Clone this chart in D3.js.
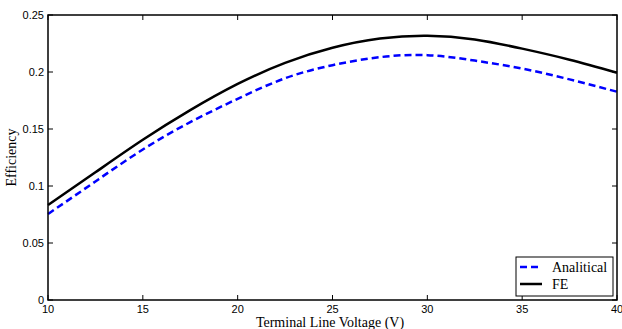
<!DOCTYPE html>
<html><head><meta charset="utf-8">
<script src="https://cdn.jsdelivr.net/npm/d3@7"></script>
<style>body{margin:0;background:#fff}svg{display:block}</style>
</head><body>
<script>
const voltage = [10, 12.5, 15, 17.5, 20, 22.5, 25, 27.5, 30, 32.5, 35, 37.5, 40];
const analitical = [0.0754, 0.104, 0.132, 0.156, 0.1765, 0.1945, 0.2060, 0.2130, 0.2148, 0.2100, 0.2030, 0.1935, 0.1827];
const fe = [0.0833, 0.112, 0.1405, 0.1665, 0.1895, 0.2080, 0.2212, 0.2293, 0.2318, 0.2285, 0.2205, 0.2108, 0.1994];
const xTicks = [10, 15, 20, 25, 30, 35, 40];
const yTicks = [0, 0.05, 0.1, 0.15, 0.2, 0.25];
const yTickLabels = ["0", "0.05", "0.1", "0.15", "0.2", "0.25"];
const seriesNames = ["Analitical", "FE"];

const W = 622, H = 329;
const L = 48, R = 617, T = 15, B = 300;
const svg = d3.select("body").append("svg").attr("width", W).attr("height", H);
const x = d3.scaleLinear().domain([10, 40]).range([L, R]);
const y = d3.scaleLinear().domain([0, 0.25]).range([B, T]);

const tickFont = "Liberation Sans, Arial, sans-serif";
const serif = "Liberation Serif, Times New Roman, serif";

const g = svg.append("g");
xTicks.forEach(v => {
  g.append("line").attr("x1", x(v)).attr("x2", x(v)).attr("y1", B).attr("y2", B - 5).attr("stroke", "#000");
  g.append("line").attr("x1", x(v)).attr("x2", x(v)).attr("y1", T).attr("y2", T + 5).attr("stroke", "#000");
  g.append("text").attr("x", x(v)).attr("y", 313).attr("text-anchor", "middle")
    .attr("font-family", tickFont).attr("font-size", 11).text(v);
});
yTicks.forEach((v, i) => {
  g.append("line").attr("x1", L).attr("x2", L + 5).attr("y1", y(v)).attr("y2", y(v)).attr("stroke", "#000");
  g.append("line").attr("x1", R).attr("x2", R - 5).attr("y1", y(v)).attr("y2", y(v)).attr("stroke", "#000");
  g.append("text").attr("x", 44).attr("y", y(v) + 4).attr("text-anchor", "end")
    .attr("font-family", tickFont).attr("font-size", 11).text(yTickLabels[i]);
});

const line = d3.line().x((d, i) => x(voltage[i])).y(d => y(d)).curve(d3.curveNatural);
svg.append("path").attr("d", line(fe)).attr("fill", "none").attr("stroke", "#000").attr("stroke-width", 2.5);
svg.append("path").attr("d", line(analitical)).attr("fill", "none").attr("stroke", "#0000ff")
  .attr("stroke-width", 2.5).attr("stroke-dasharray", "7,4");

svg.append("rect").attr("x", L).attr("y", T).attr("width", R - L).attr("height", B - T)
  .attr("fill", "none").attr("stroke", "#000").attr("stroke-width", 1.5);

svg.append("text").attr("x", 330).attr("y", 327).attr("text-anchor", "middle")
  .attr("font-family", serif).attr("font-size", 14).text("Terminal Line Voltage (V)");
svg.append("text").attr("transform", `translate(16,${(T + B) / 2}) rotate(-90)`).attr("text-anchor", "middle")
  .attr("font-family", serif).attr("font-size", 14).text("Efficiency");

const lg = svg.append("g");
lg.append("rect").attr("x", 516).attr("y", 257).attr("width", 97).attr("height", 39)
  .attr("fill", "#fff").attr("stroke", "#000").attr("stroke-width", 1);
const styles = [{c: "#0000ff", d: "7,4"}, {c: "#000", d: null}];
seriesNames.forEach((n, i) => {
  const yy = 267 + i * 17;
  const l = lg.append("line").attr("x1", 520).attr("x2", 542).attr("y1", yy).attr("y2", yy)
    .attr("stroke", styles[i].c).attr("stroke-width", 2.5);
  if (styles[i].d) l.attr("stroke-dasharray", styles[i].d);
  lg.append("text").attr("x", 552).attr("y", yy + 5).attr("font-family", serif).attr("font-size", 14).text(n);
});
</script>
</body></html>
